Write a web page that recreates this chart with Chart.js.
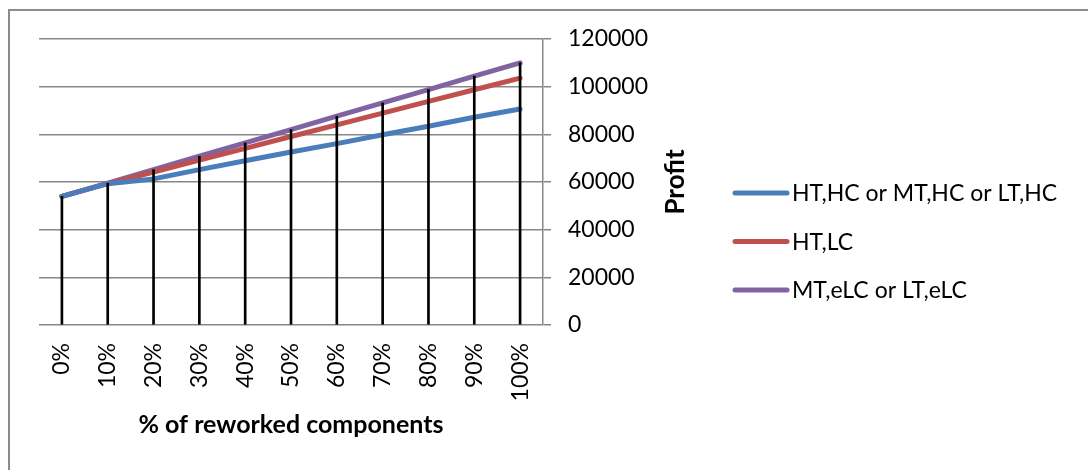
<!DOCTYPE html>
<html>
<head>
<meta charset="utf-8">
<script src="https://cdn.jsdelivr.net/npm/chart.js@4/dist/chart.umd.min.js"></script>
<style>
  html, body { margin: 0; padding: 0; background: #fff; overflow: hidden; }
  #wrap { position: relative; width: 1088px; height: 470px; }
  #frame { position: absolute; left: 8px; top: 9px; width: 1200px; height: 600px;
           border-left: 2px solid #8c8c8c; border-top: 2px solid #8c8c8c; }
  canvas { position: absolute; left: 0; top: 0; }
</style>
</head>
<body>
<div id="wrap">
  <div id="frame"></div>
  <canvas id="profitChart" width="1088" height="470"></canvas>
</div>
<script>
const FONT = "Lato, 'Open Sans', sans-serif";

const categories = ['0%', '10%', '20%', '30%', '40%', '50%', '60%', '70%', '80%', '90%', '100%'];
const seriesNames = ['HT,HC or MT,HC or LT,HC', 'HT,LC', 'MT,eLC or LT,eLC'];
const profitHC = [54000, 59300, 61300, 65200, 68900, 72600, 76100, 79800, 83400, 87200, 90600];
const profitLC = [54000, 59300, 64200, 69200, 74100, 79100, 84000, 88900, 93800, 98700, 103600];
const profitELC = [54000, 59500, 65200, 70800, 76400, 82000, 87600, 93200, 98800, 104400, 110000];
const yTicks = [0, 20000, 40000, 60000, 80000, 100000, 120000];
const colors = ['#4a7ebb', '#c0504d', '#8064a2'];

// drop lines run from the axis up to the highest series at each category
const dropTops = categories.map((_, i) => Math.max(profitHC[i], profitLC[i], profitELC[i]));

function lineSet(label, data, color) {
    return {
        type: 'line', label: label, data: data,
        borderColor: color, backgroundColor: color,
        borderWidth: 5, borderCapStyle: 'round', borderJoinStyle: 'round',
        pointRadius: 0, tension: 0, order: 1
    };
}

// rotated y axis title (reads bottom-to-top) and the legend beside it;
// the built-in legend clips long labels, so it is drawn here instead
const sideLabels = {
    id: 'sideLabels',
    afterDraw(chart) {
        const s = chart.scales.y;
        const ctx = chart.ctx;
        ctx.save();
        ctx.translate(s.left + 133, (chart.chartArea.top + chart.chartArea.bottom) / 2);
        ctx.rotate(-Math.PI / 2);
        ctx.font = "bold 26px " + FONT;
        ctx.fillStyle = '#000';
        ctx.textAlign = 'center';
        ctx.textBaseline = 'middle';
        ctx.fillText('Profit', 0, 0);
        ctx.restore();

        const x0 = s.right + 27.5;
        ctx.save();
        ctx.font = "23px " + FONT;
        ctx.textAlign = 'left';
        ctx.textBaseline = 'middle';
        ctx.lineCap = 'round';
        ctx.lineWidth = 5;
        chart.data.datasets.forEach((ds, i) => {
            if (ds.type !== 'line') return;
            const y = 193 + i * 48.5;
            ctx.strokeStyle = ds.borderColor;
            ctx.beginPath();
            ctx.moveTo(x0, y);
            ctx.lineTo(x0 + 52, y);
            ctx.stroke();
            ctx.fillStyle = '#000';
            ctx.fillText(ds.label, x0 + 57, y + 1);
        });
        ctx.restore();
    }
};

const ctx = document.getElementById('profitChart').getContext('2d');
const chart = new Chart(ctx, {
    data: {
        labels: categories,
        datasets: [
            lineSet(seriesNames[0], profitHC, colors[0]),
            lineSet(seriesNames[1], profitLC, colors[1]),
            lineSet(seriesNames[2], profitELC, colors[2]),
            { type: 'bar', label: 'drop', data: dropTops, backgroundColor: '#000',
              barThickness: 2, order: 0 }
        ]
    },
    options: {
        responsive: false,
        animation: false,
        layout: { padding: { left: 39, top: 39, right: 380.5, bottom: 26 } },
        plugins: {
            tooltip: { enabled: false },
            legend: { display: false }
        },
        scales: {
            x: {
                offset: true,
                grid: { display: false, drawTicks: false },
                border: { display: false },
                ticks: {
                    font: { family: FONT, size: 23 }, color: '#000',
                    minRotation: 90, maxRotation: 90, padding: 18, autoSkip: false
                },
                title: {
                    display: true, text: '% of reworked components',
                    font: { family: FONT, size: 25, weight: 'bold' }, color: '#000',
                    padding: { top: 0, bottom: 4 }
                },
                afterFit(s) { s.height = 119; }
            },
            y: {
                position: 'right',
                min: 0, max: 120000,
                afterBuildTicks(s) { s.ticks = yTicks.map(v => ({ value: v })); },
                grid: { color: '#878787', lineWidth: 1.5, tickLength: 8 },
                border: { color: '#878787', width: 1.5 },
                ticks: {
                    font: { family: FONT, size: 23 }, color: '#000', padding: 17,
                    callback: v => String(v)
                },
                afterFit(s) { s.width = 164.5; }
            }
        }
    },
    plugins: [sideLabels]
});
</script>
</body>
</html>
